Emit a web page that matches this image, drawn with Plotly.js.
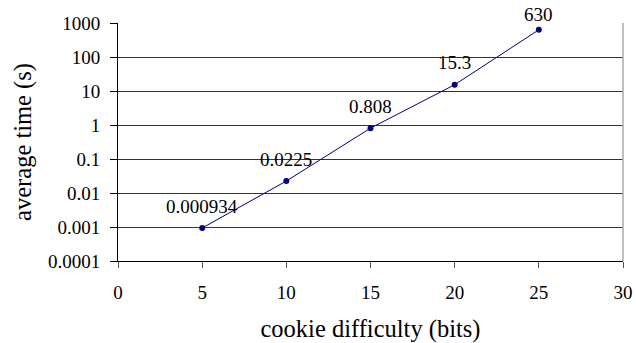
<!DOCTYPE html>
<html>
<head>
<meta charset="utf-8">
<script src="https://cdn.plot.ly/plotly-3.0.1.min.js"></script>
<style>
html,body{margin:0;padding:0;background:#fff;}
#chart{width:636px;height:343px;}
#chart svg text{font-family:"Liberation Serif","Times New Roman",serif !important;}
</style>
</head>
<body>
<div id="chart"></div>
<script>
const difficultyBits = [5, 10, 15, 20, 25];
const avgTime = [0.000934, 0.0225, 0.808, 15.3, 630];
const pointLabels = ["0.000934", "0.0225", "0.808", "15.3", "630"];
const yTickVals = [0.0001, 0.001, 0.01, 0.1, 1, 10, 100, 1000];
const yTickText = ["0.0001", "0.001", "0.01", "0.1", "1", "10", "100", "1000"];
const xTickVals = [0, 5, 10, 15, 20, 25, 30];

const FONT = "Liberation Serif";
const margin = {l: 118, r: 13, t: 23, b: 82};
const plotH = 343 - margin.t - margin.b;
const yMin = -4, yMax = 3;

const annotations = difficultyBits.map((x, i) => {
  const py = margin.t + (yMax - Math.log10(avgTime[i])) / (yMax - yMin) * plotH;
  return {
    x: x, y: Math.log10(avgTime[i]), xref: 'x', yref: 'y',
    text: pointLabels[i], showarrow: false,
    yshift: Math.min(22, py - 15),
    font: {family: FONT, size: 19, color: '#000'}
  };
});

const trace = {
  x: difficultyBits, y: avgTime,
  type: 'scatter', mode: 'lines+markers',
  line: {color: '#000080', width: 1},
  marker: {color: '#000080', size: 6},
  cliponaxis: false
};

const layout = {
  width: 636, height: 343,
  margin: margin,
  paper_bgcolor: '#fff', plot_bgcolor: '#fff',
  showlegend: false,
  font: {family: FONT, size: 19, color: '#000'},
  xaxis: {
    range: [0, 30], tickvals: xTickVals,
    ticks: 'outside', ticklen: 6, tickcolor: '#555', tickwidth: 1,
    showline: true, linecolor: '#000', linewidth: 1,
    showgrid: false, zeroline: false,
    ticklabelstandoff: 8,
    tickfont: {family: FONT, size: 19, color: '#000'},
    title: {text: 'cookie difficulty (bits)', font: {family: FONT, size: 24.5, color: '#000'}, standoff: 25}
  },
  yaxis: {
    type: 'log', range: [yMin, yMax],
    tickvals: yTickVals, ticktext: yTickText,
    ticks: 'outside', ticklen: 7, tickcolor: '#000', tickwidth: 1,
    showline: true, linecolor: '#000', linewidth: 1,
    showgrid: true, gridcolor: '#333', gridwidth: 1,
    zeroline: false,
    ticklabelstandoff: 6,
    tickfont: {family: FONT, size: 19, color: '#000'},
    title: {text: 'average time (s)', font: {family: FONT, size: 24.5, color: '#000'}, standoff: 9}
  },
  shapes: [{type: 'line', xref: 'paper', yref: 'paper', x0: 1, x1: 1, y0: 0, y1: 1,
            line: {color: '#aaa', width: 1.5}}],
  annotations: annotations
};

Plotly.newPlot('chart', [trace], layout, {displayModeBar: false, staticPlot: true});
</script>
</body>
</html>
